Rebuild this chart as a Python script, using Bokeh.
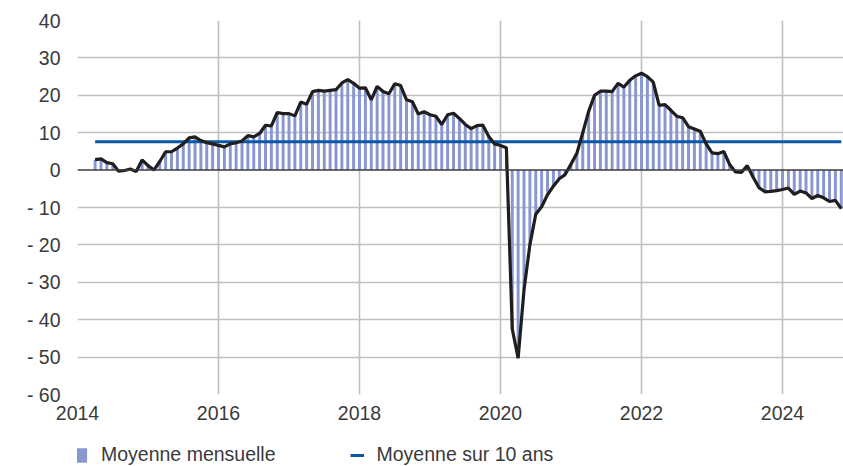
import pandas as pd
from bokeh.plotting import figure
from bokeh.layouts import column
from bokeh.models import FixedTicker, Span, Legend, LegendItem, ColumnDataSource
from bokeh.embed import file_html
from bokeh.resources import INLINE

# ---- data (monthly balance of opinion, from April 2014) ----
first_month = "2014-04-01"
monthly_balance = [
    2.8, 3.0, 2.0, 1.7, -0.3, -0.1, 0.3, -0.4, 2.7, 1.2, 0.0, 2.3,      # 2014-04 .. 2015-03
    4.9, 4.9, 5.9, 7.0, 8.6, 8.9, 7.9, 7.3, 7.0, 6.6, 6.2, 7.0,         # 2015-04 .. 2016-03
    7.3, 7.8, 9.2, 8.9, 9.8, 12.0, 11.8, 15.4, 15.1, 15.1, 14.5, 18.2,  # 2016-04 .. 2017-03
    17.6, 21.0, 21.3, 21.1, 21.3, 21.5, 23.3, 24.2, 23.2, 21.9, 22.0, 18.8,  # 2017-04 .. 2018-03
    22.4, 21.0, 20.4, 23.1, 22.6, 18.8, 18.3, 15.0, 15.6, 14.8, 14.4, 12.2,  # 2018-04 .. 2019-03
    14.8, 15.2, 13.8, 12.2, 11.1, 11.9, 12.0, 9.0, 7.0, 6.6, 6.0, -42.5,     # 2019-04 .. 2020-03
    -50.3, -32.0, -20.0, -11.8, -9.8, -6.6, -4.3, -2.3, -1.2, 1.6, 4.5, 10.0,  # 2020-04 .. 2021-03
    15.7, 20.0, 21.1, 21.1, 21.0, 23.2, 22.2, 24.0, 25.2, 25.9, 25.0, 23.5,  # 2021-04 .. 2022-03
    17.3, 17.5, 16.0, 14.4, 14.0, 11.6, 11.0, 10.4, 7.0, 4.6, 4.4, 5.0,      # 2022-04 .. 2023-03
    1.5, -0.5, -0.6, 1.2, -1.9, -4.7, -5.8, -5.7, -5.5, -5.2, -4.8, -6.5,    # 2023-04 .. 2024-03
    -5.6, -6.1, -7.6, -6.8, -7.4, -8.4, -8.1, -10.3,                         # 2024-04 .. 2024-11
]
ten_year_mean = 7.6
x_tick_years = [2014, 2016, 2018, 2020, 2022, 2024]
y_tick_values = [40, 30, 20, 10, 0, -10, -20, -30, -40, -50, -60]
y_tick_labels = ["40", "30", "20", "10", "0", "- 10", "- 20", "- 30", "- 40", "- 50", "- 60"]
legend_labels = ["Moyenne mensuelle", "Moyenne sur 10 ans"]

dates = pd.date_range(first_month, periods=len(monthly_balance), freq="MS")
xs = [float(y + (m - 1) / 12.0) for y, m in zip(dates.year, dates.month)]

src = ColumnDataSource(dict(x=xs, y=monthly_balance, m=[ten_year_mean] * len(xs)))

FONT = "Liberation Sans"
FS = "19.5px"
TXT = "#3a3a3a"
BAR = "#8896d1"
MEAN = "#0b57a8"
BAR_W = 0.5 / 12

p = figure(width=843, height=430, x_range=(2014, 2024.865), y_range=(-60, 40),
           output_backend="svg", toolbar_location=None,
           min_border_left=77, min_border_right=0, min_border_top=20, min_border_bottom=36)
p.outline_line_color = None
p.background_fill_color = "white"
p.border_fill_color = "white"

p.vbar(x="x", top="y", bottom=0, width=BAR_W, source=src, fill_color=BAR, line_color=None)
p.add_layout(Span(location=0, dimension="width", line_color="#3c3c3c", line_width=1.5))
p.line(x="x", y="m", source=src, line_color=MEAN, line_width=3)
p.line(x="x", y="y", source=src, line_color="#1f1d1e", line_width=3.2)

# axes
p.xaxis.ticker = FixedTicker(ticks=x_tick_years)
p.yaxis.ticker = FixedTicker(ticks=y_tick_values)
p.yaxis.major_label_overrides = {v: l for v, l in zip(y_tick_values, y_tick_labels)}
for ax in (p.xaxis[0], p.yaxis[0]):
    ax.axis_line_color = None
    ax.major_tick_line_color = None
    ax.minor_tick_line_color = None
    ax.major_tick_out = 0
    ax.major_tick_in = 0
    ax.major_label_text_font = FONT
    ax.major_label_text_font_size = FS
    ax.major_label_text_color = TXT
p.yaxis.major_label_standoff = 17
p.xaxis.major_label_standoff = 11

# grids
p.xgrid.ticker = FixedTicker(ticks=[2016, 2018, 2020, 2022, 2024])
p.ygrid.ticker = FixedTicker(ticks=[30, 20, 10, -10, -20, -30, -40, -50])
for g in (p.xgrid[0], p.ygrid[0]):
    g.grid_line_color = "#c0c0c0"
    g.grid_line_width = 1.6

# legend strip (its renderers use the same data, kept out of this strip's view)
lg = figure(width=843, height=36, x_range=(0, 1), y_range=(0, 1),
            x_axis_location=None, y_axis_location=None,
            output_backend="svg", toolbar_location=None, min_border=0)
lg.grid.visible = False
lg.outline_line_color = None
r_bar = lg.vbar(x="x", top="y", bottom=0, width=BAR_W, source=src, fill_color=BAR, line_color=None)
r_mean = lg.line(x="x", y="m", source=src, line_color=MEAN, line_width=3)
legend = Legend(items=[LegendItem(label=legend_labels[0], renderers=[r_bar]),
                       LegendItem(label=legend_labels[1], renderers=[r_mean])],
                orientation="horizontal", location=(-3, 0))
legend.margin = 0
legend.padding = 0
legend.spacing = 74
legend.label_standoff = 13
legend.glyph_width = 14
legend.glyph_height = 18
legend.label_text_font = FONT
legend.label_text_font_size = FS
legend.label_text_color = TXT
legend.border_line_color = None
legend.background_fill_alpha = 0
lg.add_layout(legend, "center")

open("out.html", "w").write(file_html(column(p, lg, spacing=0), INLINE))
